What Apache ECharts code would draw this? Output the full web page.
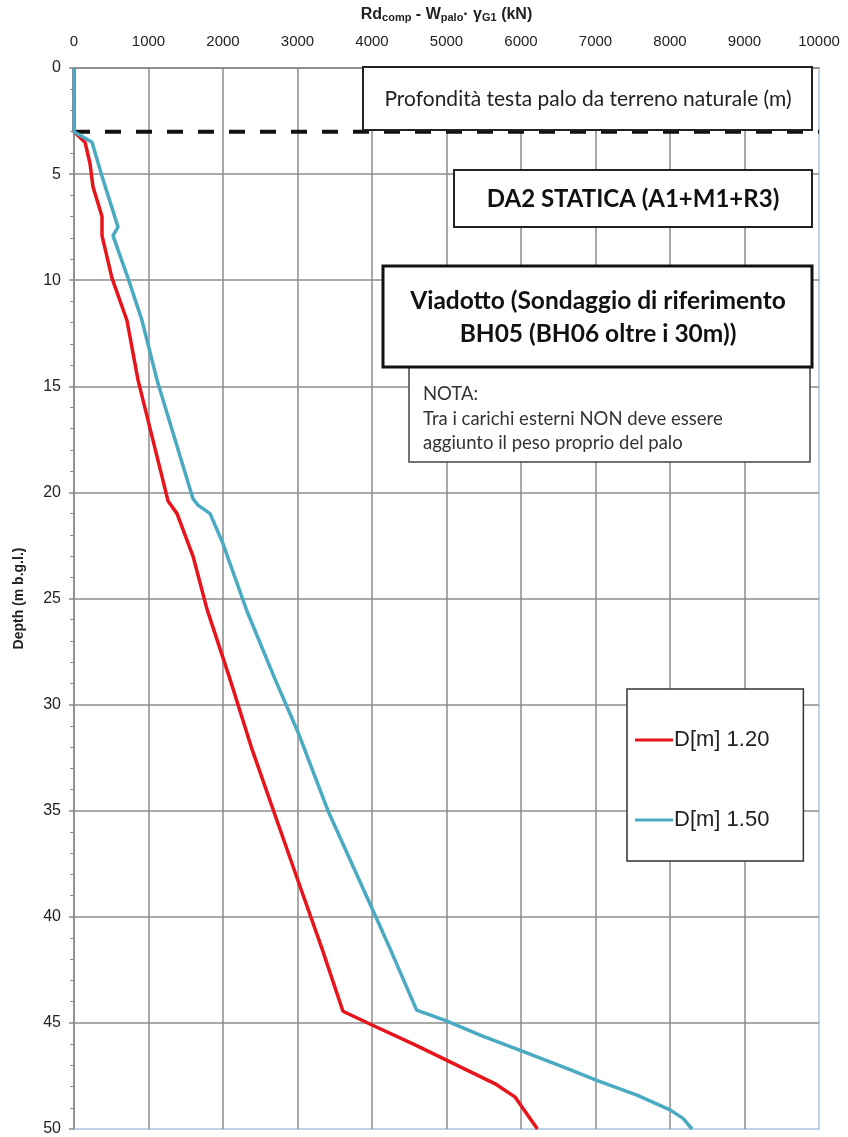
<!DOCTYPE html>
<html>
<head>
<meta charset="utf-8">
<script src="https://cdn.jsdelivr.net/npm/echarts@6/dist/echarts.min.js"></script>
<style>
	html, body { margin: 0; padding: 0; background: #fff; }
	#chart { width: 848px; height: 1137px; }
</style>
</head>
<body>
<div id="chart"></div>
<script>
// D = 1.20 m
var depth120 = [0, 3, 3.5, 4.5, 5.6, 7.0, 7.9, 9.9, 11.9, 14.7, 20.4, 21.0, 23.0, 25.5, 28.8, 32.1, 38.3, 41.5, 44.45, 45.1, 46.05, 46.8, 47.9, 48.5, 50];
var load120 = [0, 0, 148, 215, 255, 376, 376, 510, 711, 859, 1262, 1383, 1597, 1785, 2094, 2389, 3007, 3329, 3610, 4000, 4585, 5027, 5668, 5922, 6220];
// D = 1.50 m
var depth150 = [0, 3, 3.5, 5.1, 7.5, 7.9, 9.9, 11.9, 14.7, 20.3, 20.6, 21.0, 22.3, 25.6, 28.8, 31.3, 35.0, 39.7, 41.5, 44.4, 44.9, 45.6, 46.3, 47.2, 47.7, 48.4, 49.1, 49.5, 50];
var load150 = [0, 0, 242, 376, 591, 523, 725, 913, 1114, 1597, 1664, 1826, 1987, 2322, 2698, 3007, 3409, 4013, 4242, 4599, 5000, 5468, 5989, 6658, 7007, 7557, 8000, 8175, 8295];

var seriesNames = ['D[m] 1.20', 'D[m] 1.50'];
var pileHeadDepth = 3;
var loadMax = 10000;

function pairs(xs, ys) {
	var out = [];
	for (var i = 0; i < xs.length; i++) {
		out.push([xs[i], ys[i]]);
	}
	return out;
}

var chart = echarts.init(document.getElementById('chart'));

var txt = '#222';

chart.setOption({
	animation : false,
	backgroundColor : '#fff',
	grid : {
		left : 74,
		right : 29,
		top : 68,
		bottom : 6,
		show : true,
		borderColor : '#a9c3df',
		borderWidth : 1.5
	},
	legend : {
		data : seriesNames,
		orient : 'vertical',
		left : 627,
		top : 689,
		icon : 'rect',
		itemWidth : 38,
		itemHeight : 3,
		itemGap : 58,
		padding : [ 40, 34, 30, 8 ],
		borderColor : '#333',
		borderWidth : 1.5,
		backgroundColor : '#fff',
		textStyle : {
			fontFamily : 'Liberation Sans',
			fontSize : 22,
			color : txt,
			padding : [ 0, 0, 0, -4 ]
		}
	},
	xAxis : {
		type : 'value',
		position : 'top',
		min : 0,
		max : loadMax,
		interval : 1000,
		name : '{b|Rd}{s|comp}{b| - W}{s|palo}{b|· γ}{s|G1}{b| (kN)}',
		nameLocation : 'middle',
		nameGap : 45,
		nameTextStyle : {
			rich : {
				b : {
					fontFamily : 'Liberation Sans',
					fontWeight : 'bold',
					fontSize : 16,
					color : txt
				},
				s : {
					fontFamily : 'Liberation Sans',
					fontWeight : 'bold',
					fontSize : 11,
					color : txt,
					padding : [ 6, 0, 0, 0 ]
				}
			}
		},
		axisLine : {
			show : true,
			lineStyle : { color : '#8c8c8c', width : 1.5 }
		},
		axisTick : { show : false },
		axisLabel : {
			fontFamily : 'Liberation Sans',
			fontSize : 15,
			color : txt,
			margin : 19,
			formatter : function(v) {
				return String(v);
			}
		},
		splitLine : {
			show : true,
			showMaxLine : false,
			lineStyle : { color : '#8c8c8c', width : 1.5 }
		}
	},
	yAxis : {
		type : 'value',
		inverse : true,
		min : 0,
		max : 50,
		interval : 5,
		name : 'Depth (m b.g.l.)',
		nameLocation : 'middle',
		nameGap : 48,
		nameRotate : 90,
		nameTextStyle : {
			fontFamily : 'Liberation Sans',
			fontWeight : 'bold',
			fontSize : 14,
			color : txt
		},
		axisLine : {
			show : true,
			lineStyle : { color : '#8c8c8c', width : 1.5 }
		},
		axisTick : {
			show : true,
			length : 5,
			lineStyle : { color : '#8c8c8c', width : 1.5 }
		},
		minorTick : {
			show : true,
			splitNumber : 5,
			length : 4,
			lineStyle : { color : '#8c8c8c', width : 1 }
		},
		axisLabel : {
			fontFamily : 'Liberation Sans',
			fontSize : 16,
			color : txt,
			margin : 13
		},
		splitLine : {
			show : true,
			showMaxLine : false,
			lineStyle : { color : '#8c8c8c', width : 1.5 }
		}
	},
	series : [ {
		name : 'pile head',
		type : 'line',
		data : [ [ 0, pileHeadDepth ], [ loadMax, pileHeadDepth ] ],
		symbol : 'none',
		silent : true,
		z : 4,
		lineStyle : { color : '#111', width : 4, type : [ 16, 15 ] }
	}, {
		name : seriesNames[0],
		type : 'line',
		data : pairs(load120, depth120),
		symbol : 'none',
		clip : false,
		z : 5,
		lineStyle : { color : '#e8141c', width : 3.5 },
		itemStyle : { color : '#e8141c' }
	}, {
		name : seriesNames[1],
		type : 'line',
		data : pairs(load150, depth150),
		symbol : 'none',
		clip : false,
		z : 6,
		lineStyle : { color : '#4aaac2', width : 3.5 },
		itemStyle : { color : '#4aaac2' }
	} ],
	graphic : [ {
		type : 'rect',
		shape : { x : 363, y : 67, width : 449, height : 63 },
		style : { fill : '#fff', stroke : '#222', lineWidth : 2 },
		z : 10
	}, {
		type : 'text',
		x : 588, y : 99,
		style : {
			text : 'Profondità testa palo da terreno naturale (m)',
			font : '21px Lato',
			fill : txt,
			align : 'center',
			verticalAlign : 'middle'
		},
		z : 11
	}, {
		type : 'rect',
		shape : { x : 454, y : 170, width : 358, height : 57 },
		style : { fill : '#fff', stroke : '#222', lineWidth : 2 },
		z : 10
	}, {
		type : 'text',
		x : 633, y : 199,
		style : {
			text : 'DA2 STATICA (A1+M1+R3)',
			font : 'bold 24px Lato',
			fill : '#111',
			align : 'center',
			verticalAlign : 'middle'
		},
		z : 11
	}, {
		type : 'rect',
		shape : { x : 409, y : 367, width : 401, height : 95 },
		style : { fill : '#fff', stroke : '#444', lineWidth : 1.5 },
		z : 10
	}, {
		type : 'text',
		x : 423, y : 419,
		style : {
			text : 'NOTA:\nTra i carichi esterni NON deve essere\naggiunto il peso proprio del palo',
			font : '18.5px Lato',
			lineHeight : 24.5,
			fill : '#333',
			align : 'left',
			verticalAlign : 'middle'
		},
		z : 11
	}, {
		type : 'rect',
		shape : { x : 383, y : 266, width : 429, height : 101 },
		style : { fill : '#fff', stroke : '#111', lineWidth : 3 },
		z : 12
	}, {
		type : 'text',
		x : 598, y : 318,
		style : {
			text : 'Viadotto (Sondaggio di riferimento\nBH05 (BH06 oltre i 30m))',
			font : 'bold 24.5px Lato',
			lineHeight : 33,
			fill : '#111',
			align : 'center',
			verticalAlign : 'middle'
		},
		z : 13
	} ]
});
</script>
</body>
</html>
